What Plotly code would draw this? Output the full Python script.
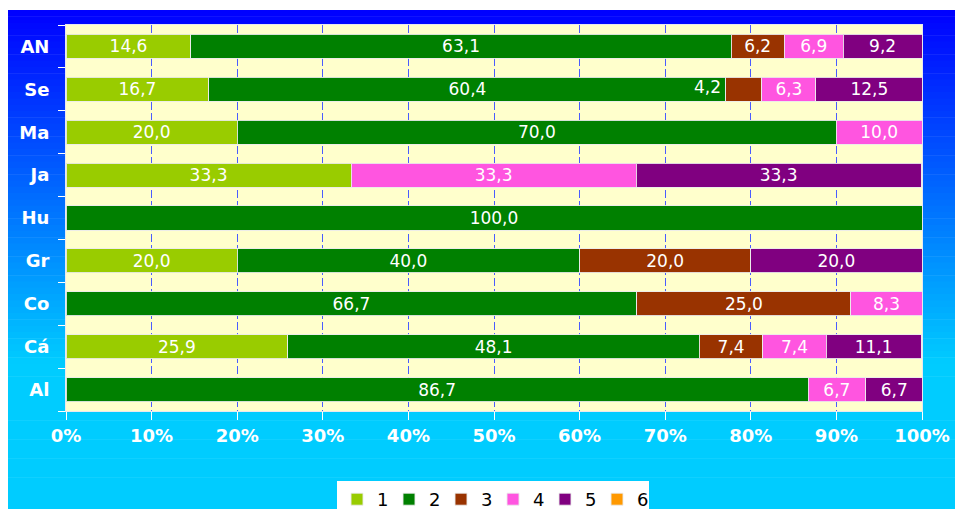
import plotly.graph_objects as go

# ---- data ----
categories = ["Al", "Cá", "Co", "Gr", "Hu", "Ja", "Ma", "Se", "AN"]
series_names = ["1", "2", "3", "4", "5", "6"]
s1 = [0.0, 25.9, 0.0, 20.0, 0.0, 33.3, 20.0, 16.7, 14.6]
s2 = [86.7, 48.1, 66.7, 40.0, 100.0, 0.0, 70.0, 60.4, 63.1]
s3 = [0.0, 7.4, 25.0, 20.0, 0.0, 0.0, 0.0, 4.2, 6.2]
s4 = [6.7, 7.4, 8.3, 0.0, 0.0, 33.3, 10.0, 6.3, 6.9]
s5 = [6.7, 11.1, 0.0, 20.0, 0.0, 33.3, 0.0, 12.5, 9.2]
s6 = [0.0, 0.0, 0.0, 0.0, 0.0, 0.0, 0.0, 0.0, 0.0]
x_tick_vals = [0, 10, 20, 30, 40, 50, 60, 70, 80, 90, 100]
x_tick_text = ["0%", "10%", "20%", "30%", "40%", "50%", "60%", "70%", "80%", "90%", "100%"]

series = [s1, s2, s3, s4, s5, s6]
colors = ["#99CC00", "#008000", "#993300", "#FF55E0", "#800080", "#FF9900"]

W, H = 955, 509
L, R, T, B = 66, 922, 25, 411  # plot area in pixels


def pxx(p):
    return (p - L) / (R - L)


def pxy(p):
    return (B - p) / (B - T)


def fmt(v):
    return f"{v:.1f}".replace(".", ",") if v > 0 else ""


fig = go.Figure()
annotations = []
for i, (name, vals, col) in enumerate(zip(series_names, series, colors)):
    texts = [fmt(v) for v in vals]
    # small segment label drawn to the left of its segment (as in the original)
    if name == "3":
        for j, v in enumerate(vals):
            if 0 < v < 5:
                texts[j] = ""
                annotations.append(dict(
                    x=s1[j] + s2[j], y=categories[j], xref="x", yref="y",
                    text=fmt(v), showarrow=False, xanchor="right", xshift=-3, yshift=2,
                    font=dict(family="DejaVu Sans", size=17, color="white")))
    fig.add_trace(go.Bar(
        name=name, y=categories, x=vals, orientation="h",
        marker=dict(color=col, line=dict(color="rgba(235,235,235,0.9)", width=1)),
        text=texts, textposition="inside", insidetextanchor="middle",
        constraintext="none", textangle=0,
        textfont=dict(family="DejaVu Sans", size=17, color="white"),
        hoverinfo="skip",
    ))

# gradient background panel (bands)
shapes = []
top_px, bot_px = 10, 515
n = 80
for k in range(n):
    y0 = top_px + (bot_px - top_px) * k / n
    y1 = top_px + (bot_px - top_px) * (k + 1) / n
    ym = (y0 + y1) / 2
    g = int(min(204, max(0, (ym - 10) * 0.58)))
    shapes.append(dict(type="rect", xref="paper", yref="paper", layer="below",
                       x0=pxx(8), x1=pxx(960), y0=pxy(y1 + 0.5), y1=pxy(y0),
                       fillcolor=f"rgb(0,{g},255)", line=dict(width=0)))
shapes.append(dict(type="rect", xref="paper", yref="paper", layer="below",
                   x0=0, x1=1, y0=0, y1=1, fillcolor="#FFFFCC", line=dict(width=0)))

fig.update_layout(
    width=W, height=H,
    margin=dict(l=L, r=W - R, t=T, b=H - B, autoexpand=False),
    paper_bgcolor="white", plot_bgcolor="#FFFFCC",
    barmode="stack", bargap=0.44,
    shapes=shapes, annotations=annotations,
    showlegend=True,
    legend=dict(orientation="h", x=pxx(493), xanchor="center", y=pxy(481), yanchor="top",
                bgcolor="white", font=dict(family="DejaVu Sans", size=18, color="black"),
                traceorder="normal", entrywidth=7, entrywidthmode="pixels"),
    xaxis=dict(range=[0, 100], tickvals=x_tick_vals, ticktext=x_tick_text,
               showgrid=True, gridcolor="#4A5CFF", gridwidth=1, griddash="8px,3px",
               zeroline=False, showline=True, linecolor="#E8E8F0", linewidth=1, mirror=True,
               ticks="outside", ticklen=8, tickcolor="white",
               tickfont=dict(family="DejaVu Sans", size=18, color="white", weight="bold"),
               fixedrange=True),
    yaxis=dict(categoryorder="array", categoryarray=categories, type="category",
               showgrid=False, zeroline=False, showline=True, linecolor="#E8E8F0",
               linewidth=1, mirror=True,
               ticks="outside", ticklen=7, tickcolor="white", tickson="boundaries",
               ticklabelstandoff=12,
               tickfont=dict(family="DejaVu Sans", size=18, color="white", weight="bold"),
               fixedrange=True),
)

fig.write_html(
    "out.html",
    config={"displayModeBar": False},
    post_script="document.body.style.margin='0';document.body.style.overflow='hidden';",
)
